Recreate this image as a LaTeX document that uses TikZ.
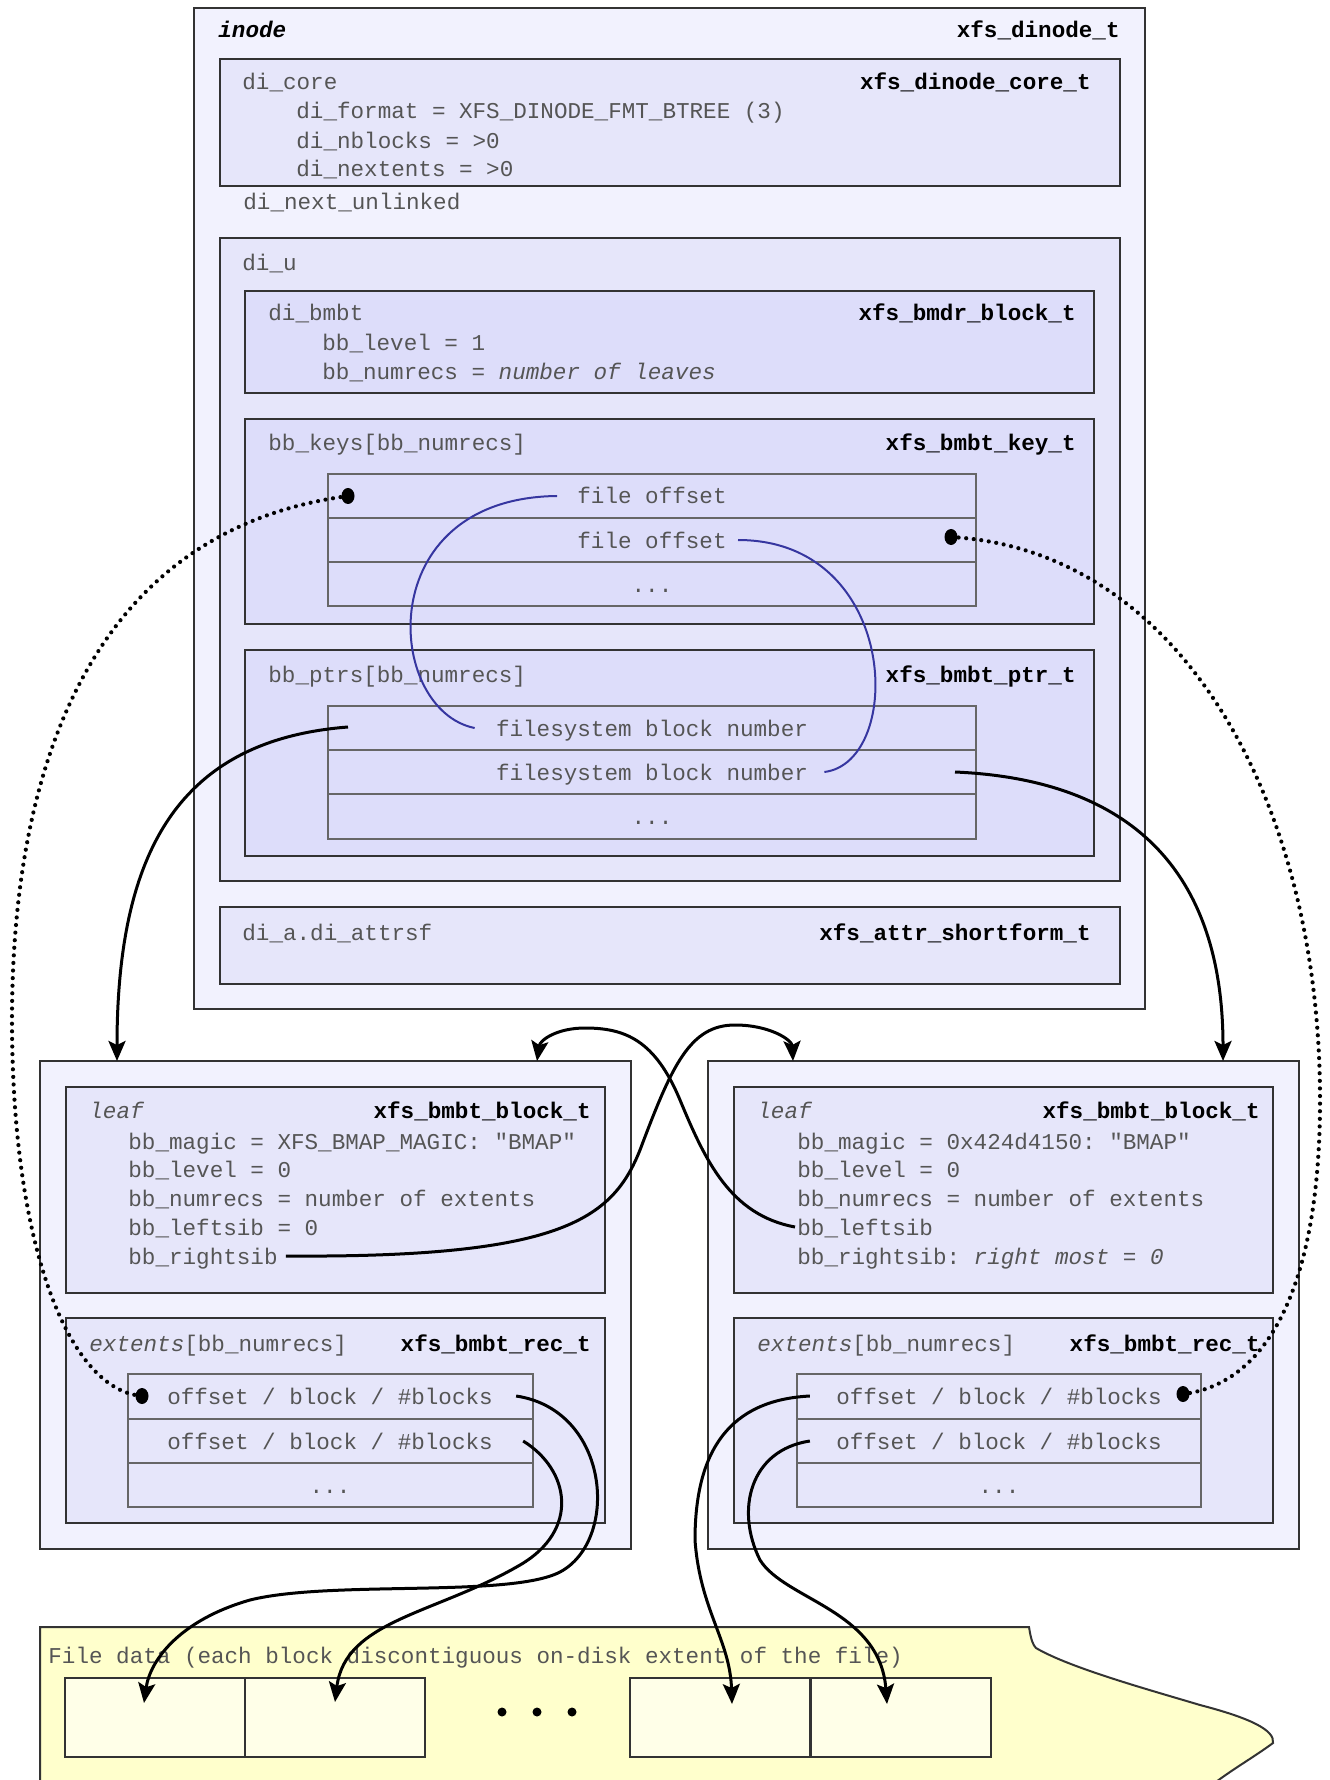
\documentclass[tikz,border=0pt]{standalone}
\usepackage{fontspec}
\setmonofont{Liberation Mono}
\usetikzlibrary{arrows.meta}
\definecolor{inodebg}{HTML}{F2F2FE}
\definecolor{structbg}{HTML}{E6E6FA}
\definecolor{fieldbg}{HTML}{DDDDFA}
\definecolor{edgegray}{HTML}{333333}
\definecolor{rowgray}{HTML}{666666}
\definecolor{txtgray}{HTML}{555555}
\definecolor{linkblue}{HTML}{3636A0}
\definecolor{filebg}{HTML}{FFFFCC}
\definecolor{blockbg}{HTML}{FFFFE8}
\newcommand{\xfsfont}{\ttfamily\fontsize{11.3}{13}\selectfont}
\tikzset{
  fld/.style={anchor=west, inner sep=0pt, text=txtgray, font=\xfsfont, text height=10pt, text depth=2pt},
  typ/.style={anchor=east, inner sep=0pt, font=\xfsfont\bfseries, text height=10pt, text depth=2pt},
  cell/.style={fld, anchor=center},
  frame/.style={draw=edgegray, line width=1pt},
  rows/.style={draw=rowgray, line width=0.8pt},
  blk/.style={draw=edgegray, line width=1pt, fill=blockbg, minimum width=90pt, minimum height=39.5pt, inner sep=0pt},
  ptr/.style={line width=1.5pt, -{Stealth[length=10pt, width=8.5pt, inset=2pt]}},
  keylink/.style={draw=linkblue, line width=1pt},
  dots/.style={line width=2.1pt, line cap=round, dash pattern=on 0pt off 3.8pt},
}
\begin{document}
\begin{tikzpicture}[x=0.5pt, y=-0.5pt]
\useasboundingbox (0,0) rectangle (1329,1780);

% inode
\draw[frame, fill=inodebg] (194,8) rectangle (1145,1009);
\node[typ, anchor=west, font=\xfsfont\bfseries\itshape] (inode) at (218,30) {inode};
\node[typ] (inodet) at (1120,30) {xfs\_dinode\_t};

\draw[frame, fill=structbg] (220,59) rectangle (1120,186);
\node[fld] (core) at (242,82) {di\_core};
\node[typ] (coret) at (1091,82) {xfs\_dinode\_core\_t};
\node[fld] (fmt) at (296,111) {di\_format = XFS\_DINODE\_FMT\_BTREE (3)};
\node[fld] (nblk) at (296,141) {di\_nblocks = >0};
\node[fld] (next) at (296,169) {di\_nextents = >0};
\node[fld] (unlk) at (243,202) {di\_next\_unlinked};

% di_u
\draw[frame, fill=structbg] (220,238) rectangle (1120,881);
\node[fld] (diu) at (242,263) {di\_u};

\draw[frame, fill=fieldbg] (245,291) rectangle (1094,393);
\node[fld] (bmbt) at (268,313) {di\_bmbt};
\node[typ] (bmbtt) at (1076,313) {xfs\_bmdr\_block\_t};
\node[fld] (lvl) at (322,343) {bb\_level = 1};
\node[fld] (nrec) at (322,372) {bb\_numrecs = \textit{number of leaves}};

\draw[frame, fill=fieldbg] (245,419) rectangle (1094,624);
\node[fld] (keys) at (268,443) {bb\_keys[bb\_numrecs]};
\node[typ] (keyst) at (1076,443) {xfs\_bmbt\_key\_t};
\draw[rows] (328,474) rectangle (976,606) (328,518) -- (976,518) (328,562) -- (976,562);
\node[cell] (key1) at (652,496) {file offset};
\node[cell] (key2) at (652,540) {file offset};
\node[cell] (key3) at (652,584) {...};

\draw[frame, fill=fieldbg] (245,650) rectangle (1094,856);
\node[fld] (ptrs) at (268,674) {bb\_ptrs[bb\_numrecs]};
\node[typ] (ptrst) at (1076,674) {xfs\_bmbt\_ptr\_t};
\draw[rows] (328,706) rectangle (976,839) (328,750) -- (976,750) (328,794) -- (976,794);
\node[cell] (ptr1) at (652,728) {filesystem block number};
\node[cell] (ptr2) at (652,772) {filesystem block number};
\node[cell] (ptr3) at (652,816) {...};

\draw[frame, fill=structbg] (220,907) rectangle (1120,984);
\node[fld] (attr) at (242,932) {di\_a.di\_attrsf};
\node[typ] (attrt) at (1091,932) {xfs\_attr\_shortform\_t};

% left leaf
\draw[frame, fill=inodebg] (40,1061) rectangle (631,1549);
\draw[frame, fill=structbg] (66,1087) rectangle (605,1293);
\node[fld] (lleaf) at (89,1110) {\textit{leaf}};
\node[typ] (lleaft) at (591,1110) {xfs\_bmbt\_block\_t};
\node[fld] (lmagic) at (128,1141) {bb\_magic = XFS\_BMAP\_MAGIC: "BMAP"};
\node[fld] (llvl) at (128,1169) {bb\_level = 0};
\node[fld] (lnrec) at (128,1198) {bb\_numrecs = number of extents};
\node[fld] (llsib) at (128,1227) {bb\_leftsib = 0};
\node[fld] (lrsib) at (128,1256) {bb\_rightsib};
\draw[frame, fill=structbg] (66,1318) rectangle (605,1523);
\node[fld] (lext) at (89,1343) {\textit{extents}[bb\_numrecs]};
\node[typ] (lextt) at (591,1343) {xfs\_bmbt\_rec\_t};
\draw[rows] (128,1374) rectangle (533,1507) (128,1419) -- (533,1419) (128,1463) -- (533,1463);
\node[cell] (lrec1) at (330,1396) {offset / block / \#blocks};
\node[cell] (lrec2) at (330,1441) {offset / block / \#blocks};
\node[cell] (lrec3) at (330,1485) {...};

% right leaf
\begin{scope}[shift={(668,0)}]
\draw[frame, fill=inodebg] (40,1061) rectangle (631,1549);
\draw[frame, fill=structbg] (66,1087) rectangle (605,1293);
\node[fld] (rleaf) at (89,1110) {\textit{leaf}};
\node[typ] (rleaft) at (592,1110) {xfs\_bmbt\_block\_t};
\node[fld] (rmagic) at (129,1141) {bb\_magic = 0x424d4150: "BMAP"};
\node[fld] (rlvl) at (129,1169) {bb\_level = 0};
\node[fld] (rnrec) at (129,1198) {bb\_numrecs = number of extents};
\node[fld] (rlsib) at (129,1227) {bb\_leftsib};
\node[fld] (rrsib) at (129,1256) {bb\_rightsib: \textit{right most = 0}};
\draw[frame, fill=structbg] (66,1318) rectangle (605,1523);
\node[fld] (rext) at (89,1343) {\textit{extents}[bb\_numrecs]};
\node[typ] (rextt) at (592,1343) {xfs\_bmbt\_rec\_t};
\draw[rows] (129,1374) rectangle (533,1507) (129,1419) -- (533,1419) (129,1463) -- (533,1463);
\node[cell] (rrec1) at (331,1396) {offset / block / \#blocks};
\node[cell] (rrec2) at (331,1441) {offset / block / \#blocks};
\node[cell] (rrec3) at (331,1485) {...};
\end{scope}

% file data
\path[draw=edgegray, line width=1pt, fill=filebg] (40,1795) -- (40,1627) -- (1029,1627)
  .. controls (1031,1640) and (1033,1645) .. (1036,1648)
  .. controls (1070,1668) and (1150,1690) .. (1200,1705)
  .. controls (1250,1718) and (1275,1730) .. (1273,1743)
  .. controls (1250,1760) and (1222,1775) .. (1200,1795);
\node[fld] (fdata) at (48,1655) {File data (each block discontiguous on-disk extent of the file)};
\node[blk] (blk1) at (155,1717.5) {};
\node[blk] (blk2) at (335,1717.5) {};
\node[blk] (blk3) at (720,1717.5) {};
\node[blk] (blk4) at (900.5,1717.5) {};
\foreach \dx in {502,537,572} \fill (\dx,1712) circle (4.5);

\coordinate (in1) at (144,1703);
\coordinate (in2) at (335,1702);
\coordinate (in3) at (732,1704);
\coordinate (in4) at (887,1704);
\coordinate (pl) at (348,727);
\coordinate (pr) at (955,772);
\coordinate (lleafin) at (117,1061);
\coordinate (rleafin) at (1223,1061);
\coordinate (lsibin) at (537,1061);
\coordinate (rsibin) at (793,1061);
\coordinate (dk1) at (348,496);
\coordinate (dk2) at (951,537);
\coordinate (de1) at (142,1396);
\coordinate (de2) at (1183,1394);

% keys -> ptrs
\draw[keylink] ([xshift=-10pt]key1.west) .. controls (370,498) and (385,710) .. ([xshift=-10.5pt]ptr1.west);
\draw[keylink] ([xshift=5.5pt]key2.east) .. controls (900,540) and (905,762) .. ([xshift=8pt]ptr2.east);

% ptrs -> leaves
\draw[ptr] (pl) .. controls (180,740) and (117,850) .. (lleafin);
\draw[ptr] (pr) .. controls (1140,780) and (1223,880) .. (rleafin);

% key -> first extent
\fill (dk1) ellipse (6.5 and 8);
\fill (dk2) ellipse (6.5 and 8);
\fill (de1) ellipse (6.5 and 8);
\fill (de2) ellipse (6.5 and 8);
\draw[dots] (dk1) .. controls (95,530) and (12,760) .. (12,1020) .. controls (12,1250) and (70,1390) .. (de1);
\draw[dots] (dk2) .. controls (1180,550) and (1320,800) .. (1320,1100) .. controls (1320,1300) and (1260,1385) .. (de2);

% siblings
\draw[ptr] ([xshift=4pt]lrsib.east) .. controls (560,1258) and (612,1220) .. (640,1150)
  .. controls (672,1065) and (690,1025) .. (735,1025) .. controls (770,1025) and (792,1040) .. (rsibin);
\draw[ptr] ([xshift=-1pt]rlsib.west) .. controls (730,1215) and (705,1160) .. (680,1100)
  .. controls (655,1040) and (625,1028) .. (585,1028) .. controls (557,1028) and (540,1040) .. (lsibin);

% extents -> file data
\draw[ptr] ([xshift=11.5pt]lrec1.east) .. controls (610,1410) and (620,1540) .. (560,1572)
  .. controls (510,1598) and (330,1580) .. (250,1600) .. controls (180,1620) and (150,1660) .. (in1);
\draw[ptr] ([xshift=15pt]lrec2.east) .. controls (570,1470) and (580,1530) .. (520,1565)
  .. controls (436,1614) and (345,1620) .. (in2);
\draw[ptr] ([xshift=-13pt]rrec1.west) .. controls (730,1400) and (695,1450) .. (695,1540)
  .. controls (700,1610) and (730,1640) .. (in3);
\draw[ptr] ([xshift=-13pt]rrec2.west) .. controls (750,1450) and (735,1510) .. (760,1560)
  .. controls (785,1600) and (880,1610) .. (in4);
\end{tikzpicture}
\end{document}
